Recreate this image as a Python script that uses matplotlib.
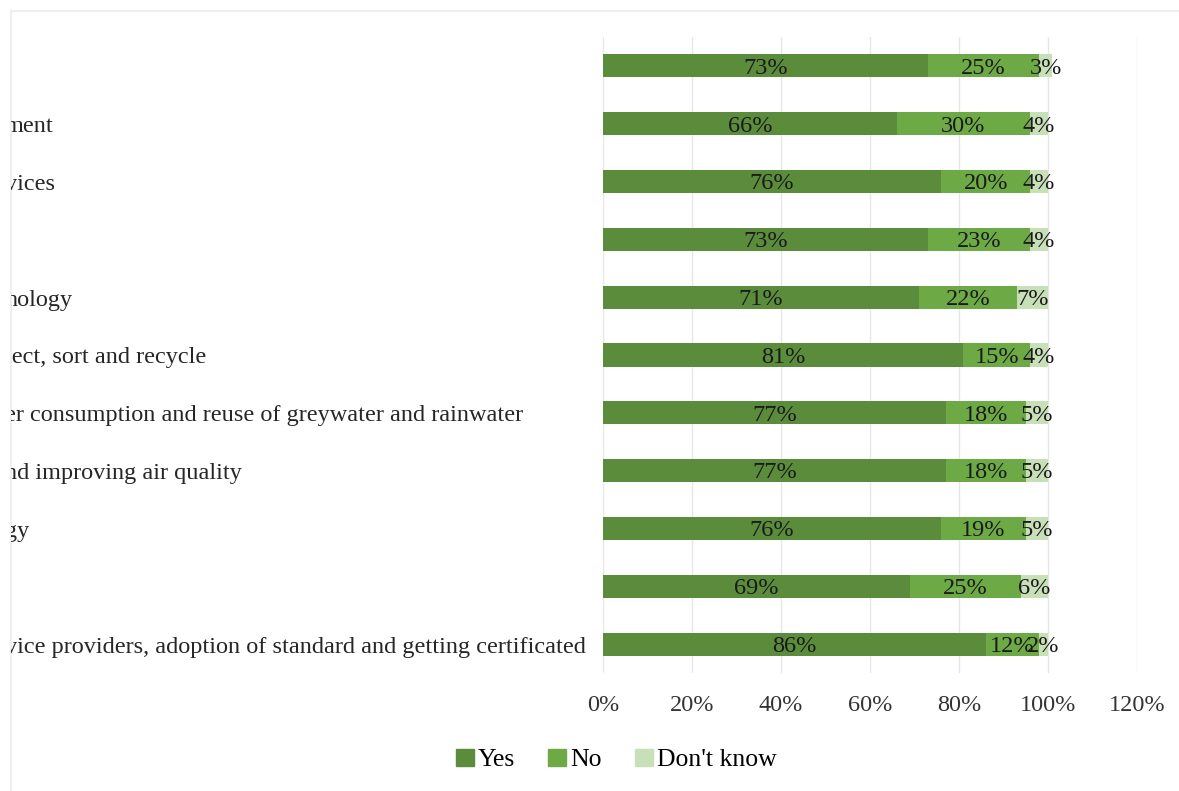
import matplotlib.pyplot as plt
import matplotlib.patches as mpatches
import numpy as np

plt.rcParams['font.family'] = ['Liberation Serif', 'DejaVu Serif']

labels = ["", "ment", "vices", "", "nology", "lect, sort and recycle",
          "er consumption and reuse of greywater and rainwater",
          "nd improving air quality", "gy", "",
          "vice providers, adoption of standard and getting certificated"]
yes = [73, 66, 76, 73, 71, 81, 77, 77, 76, 69, 86]
no = [25, 30, 20, 23, 22, 15, 18, 18, 19, 25, 12]
dont_know = [3, 4, 4, 4, 7, 4, 5, 5, 5, 6, 2]
series = ["Yes", "No", "Don't know"]
colors = ["#5B8C3B", "#6DAA46", "#C8E0B8"]
xticks = [0, 20, 40, 60, 80, 100, 120]

W, H = 1179, 791
FS = 17.5
fig = plt.figure(figsize=(W / 100, H / 100), dpi=100)

# light outer frame of the chart area
frame = fig.add_axes([11 / W, -0.05, 1.2, 1 - 11 / H + 0.05])
frame.set_xticks([])
frame.set_yticks([])
frame.patch.set_alpha(0)
for s in frame.spines.values():
    s.set_color("#efefef")
    s.set_linewidth(1.5)

top, bottom = 37, 673
ax = fig.add_axes([603 / W, 1 - bottom / H, (1137 - 603) / W, (bottom - top) / H])
y = np.arange(len(labels))
left = np.zeros(len(labels))
for vals, name, c in zip([yes, no, dont_know], series, colors):
    vals = np.array(vals, dtype=float)
    ax.barh(y, vals, left=left, height=0.4, color=c, label=name, zorder=2)
    for yi, l, v in zip(y, left, vals):
        ax.text(l + v / 2, yi + 0.04, f"{int(v)}%", ha="center", va="center",
                fontsize=FS, color="#1a1a1a", zorder=3)
    left += vals

ax.set_xlim(0, 120)
ax.set_ylim(len(labels) - 0.5, -0.5)
ax.set_xticks(xticks)
ax.set_xticklabels([f"{t}%" for t in xticks], fontsize=FS, color="#333333")
ax.tick_params(axis="x", length=0, pad=16)
ax.set_yticks([])
ax.grid(axis="x", color="#e6e6e6", linewidth=1, zorder=0)
for s in ax.spines.values():
    s.set_visible(False)

# category names, cut at the left edge of the frame
row_h = (bottom - top) / len(labels)
for yi, lab in zip(y, labels):
    t = fig.text(5 / W, 1 - (top + (yi + 0.5) * row_h + 3) / H, lab, ha="left",
                 va="center", fontsize=FS, color="#262626")
    t.set_clip_box(frame.bbox)
    t.set_clip_on(True)

handles = [mpatches.Patch(color=c, label=n) for c, n in zip(colors, series)]
fig.legend(handles=handles, loc="center", bbox_to_anchor=(616 / W, 1 - 760 / H),
           ncol=3, frameon=False, fontsize=18.5, handlelength=0.7,
           handleheight=0.7, handletextpad=0.15, columnspacing=1.3)

fig.savefig("out.png", dpi=100)
